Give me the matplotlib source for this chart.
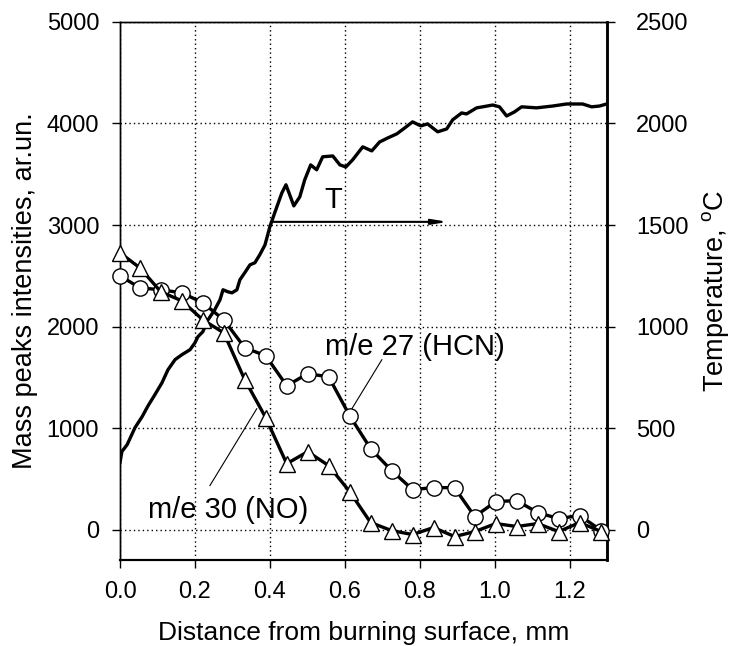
import matplotlib
matplotlib.use("Agg")
import matplotlib.pyplot as plt

plt.rcParams['font.family'] = ['Liberation Sans', 'DejaVu Sans']

# HCN (m/e 27) and NO (m/e 30) mass peak intensities
dist = [0.000, 0.053, 0.109, 0.165, 0.221, 0.277, 0.333, 0.389, 0.445, 0.501,
        0.557, 0.613, 0.669, 0.725, 0.781, 0.837, 0.893, 0.947, 1.003, 1.059,
        1.115, 1.171, 1.227, 1.285]
hcn = [2500, 2381, 2362, 2332, 2234, 2066, 1791, 1712, 1417, 1535,
       1505, 1122, 797, 581, 394, 413, 413, 128, 276, 285,
       167, 108, 138, -10]
no = [2726, 2578, 2342, 2253, 2066, 1938, 1476, 1102, 649, 767,
      630, 374, 69, -10, -49, 20, -69, -20, 59, 30,
      59, -20, 69, -20]

# Temperature profile
t_dist = [0.000, 0.005, 0.019, 0.040, 0.059, 0.075, 0.093, 0.112, 0.128, 0.147,
          0.165, 0.187, 0.200, 0.208, 0.221, 0.235, 0.253, 0.267, 0.275, 0.288,
          0.299, 0.312, 0.320, 0.333, 0.347, 0.360, 0.373, 0.387, 0.400, 0.413,
          0.432, 0.443, 0.453, 0.464, 0.480, 0.493, 0.509, 0.525, 0.541, 0.568,
          0.587, 0.603, 0.621, 0.648, 0.672, 0.693, 0.715, 0.739, 0.760, 0.781,
          0.803, 0.821, 0.848, 0.872, 0.888, 0.912, 0.925, 0.952, 0.968, 0.995,
          1.013, 1.032, 1.053, 1.072, 1.112, 1.155, 1.192, 1.235, 1.259, 1.280,
          1.299]
temp = [330, 384, 418, 502, 556, 610, 664, 723, 787, 837,
        861, 886, 920, 950, 974, 1033, 1083, 1132, 1181, 1171,
        1166, 1181, 1230, 1265, 1304, 1314, 1353, 1402, 1491, 1560,
        1658, 1698, 1649, 1594, 1639, 1722, 1796, 1772, 1836, 1840,
        1796, 1786, 1821, 1885, 1865, 1909, 1929, 1949, 1978, 2008,
        1988, 1998, 1959, 1973, 2018, 2052, 2047, 2077, 2082, 2091,
        2082, 2037, 2057, 2082, 2077, 2086, 2096, 2096, 2082, 2086,
        2096]

xticks = [0.0, 0.2, 0.4, 0.6, 0.8, 1.0, 1.2]
xticklabels = ['0.0', '0.2', '0.4', '0.6', '0.8', '1.0', '1.2']
yticks = [0, 1000, 2000, 3000, 4000, 5000]
y2ticks = [0, 500, 1000, 1500, 2000, 2500]

fig = plt.figure(figsize=(7.30, 6.46), dpi=100)
ax = fig.add_axes([0.1644, 0.1331, 0.6671, 0.8329])
ax2 = ax.twinx()

ax.set_xlim(0, 1.3)
ax.set_ylim(-300, 5000)
ax2.set_ylim(-150, 2500)

ax2.plot(t_dist, temp, color='black', lw=2.4, zorder=2)

ax.plot(dist, hcn, color='black', lw=2.4, marker='o', ms=11,
        mfc='white', mec='black', mew=1.0, zorder=3, clip_on=False)
ax.plot(dist, no, color='black', lw=2.4, marker='^', ms=11.5,
        mfc='white', mec='black', mew=1.0, zorder=3, clip_on=False)

ax.set_zorder(ax2.get_zorder() + 1)
ax.patch.set_visible(False)

ax.set_xticks(xticks)
ax.set_xticklabels(xticklabels)
ax.set_yticks(yticks)
ax2.set_yticks(y2ticks)

for a in (ax, ax2):
    a.tick_params(direction='out', length=6, width=1, labelsize=17, colors='black')
ax.tick_params(axis='x', pad=9)
ax.tick_params(axis='y', pad=9)
ax2.tick_params(axis='y', pad=15)

ax.grid(True, linestyle=(0, (1, 2.2)), color='black', lw=1.0)

for s in ('left', 'top'):
    ax.spines[s].set_linewidth(1.0)
    ax2.spines[s].set_linewidth(1.0)
ax.spines['bottom'].set_linewidth(1.5)
ax2.spines['bottom'].set_linewidth(1.5)
ax.spines['right'].set_linewidth(1.8)
ax2.spines['right'].set_linewidth(1.8)

ax.set_xlabel('Distance from burning surface, mm', fontsize=19, labelpad=13)
ax.set_ylabel('Mass peaks intensities, ar.un.', fontsize=19.5, labelpad=6)
ax2.set_ylabel('Temperature, $\\mathregular{^{o}}$C', fontsize=19.5, labelpad=8)

# annotations
ax.text(0.547, 1722, 'm/e 27 (HCN)', fontsize=21, ha='left', va='baseline')
ax.plot([0.699, 0.619], [1673, 1190], color='black', lw=0.8)
ax.text(0.075, 118, 'm/e 30 (NO)', fontsize=21, ha='left', va='baseline')
ax.plot([0.240, 0.365], [433, 1190], color='black', lw=0.8)

ax.annotate('', xy=(0.875, 3031), xytext=(0.409, 3031),
            arrowprops=dict(arrowstyle='-|>,head_length=0.9,head_width=0.15',
                            color='black', lw=1.5, shrinkA=0, shrinkB=0))
ax.text(0.568, 3110, 'T', fontsize=21, ha='center', va='bottom')

fig.savefig('out.png', dpi=100)
